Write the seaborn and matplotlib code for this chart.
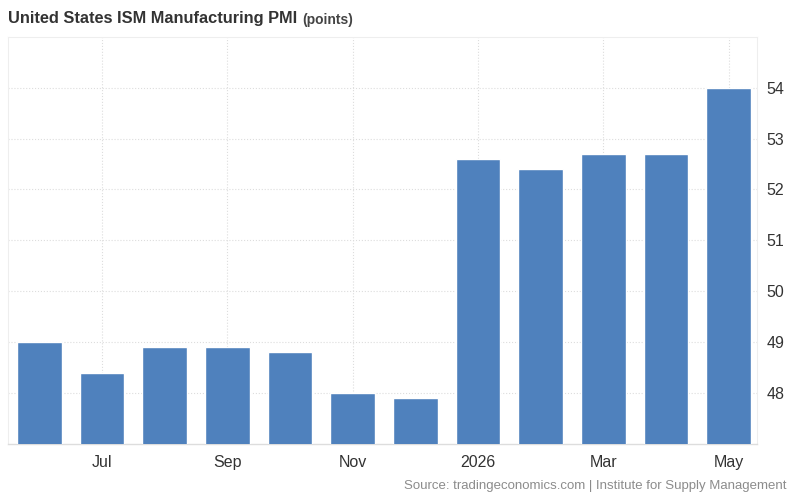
import pandas as pd
import seaborn as sns
import matplotlib.pyplot as plt

months = ["Jun", "Jul", "Aug", "Sep", "Oct", "Nov", "Dec",
          "Jan", "Feb", "Mar", "Apr", "May"]
pmi = [49.0, 48.4, 48.9, 48.9, 48.8, 48.0, 47.9,
       52.6, 52.4, 52.7, 52.7, 54.0]
tick_labels = ["", "Jul", "", "Sep", "", "Nov", "", "2026", "", "Mar", "", "May"]
y_ticks = [48, 49, 50, 51, 52, 53, 54]

df = pd.DataFrame({"month": months, "pmi": pmi})

sns.set_style("white")
plt.rcParams["font.family"] = ["Liberation Sans", "DejaVu Sans"]

fig = plt.figure(figsize=(8, 4.98), dpi=100)
ax = fig.add_axes([0.01, 0.109, 0.936, 0.817])

sns.barplot(data=df, x="month", y="pmi", color="#4f81bd", saturation=1,
            width=0.71, ax=ax, zorder=3)

ax.set_ylim(47, 55)
ax.set_xlim(-0.5, 11.45)
ax.set_yticks(y_ticks)
ax.yaxis.tick_right()
ax.tick_params(axis="y", length=0, labelsize=11.5, labelcolor="#333333", pad=7)
ax.set_xticks(range(len(months)))
ax.set_xticklabels(tick_labels)
ax.tick_params(axis="x", length=0, labelsize=11.5, labelcolor="#333333", pad=8)

# dotted grid only at labelled months
for i, lab in enumerate(tick_labels):
    if lab:
        ax.axvline(i, color="#dddddd", lw=0.8, ls=":", zorder=0)
for y in y_ticks:
    ax.axhline(y, color="#dddddd", lw=0.8, ls=":", zorder=0)

ax.set_xlabel("")
ax.set_ylabel("")
for side in ["left", "right", "top"]:
    ax.spines[side].set_color("#eeeeee")
    ax.spines[side].set_linewidth(0.8)
ax.spines["bottom"].set_color("#dddddd")
ax.spines["bottom"].set_linewidth(1.0)

title = fig.text(0.01, 0.962, "United States ISM Manufacturing PMI", fontsize=11.8,
                 fontweight="bold", color="#333333", va="center", ha="left")
fig.canvas.draw()
bb = title.get_window_extent().transformed(fig.transFigure.inverted())
fig.text(bb.x1 + 0.006, 0.959, "(points)", fontsize=10, fontweight="bold",
         color="#444444", va="center", ha="left")
fig.text(0.983, 0.025, "Source: tradingeconomics.com | Institute for Supply Management",
         fontsize=9.5, color="#8c8c8c", ha="right", va="center")

fig.savefig("out.png", dpi=100)
